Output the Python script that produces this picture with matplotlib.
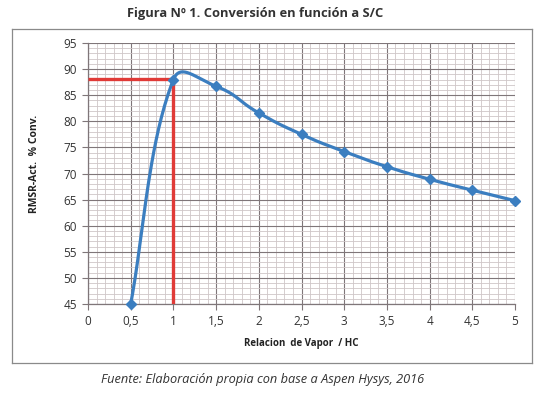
import numpy as np
import matplotlib
matplotlib.use("Agg")
import matplotlib.pyplot as plt
from matplotlib.lines import Line2D

# ---- data ----
x_vals = [0.5, 1.0, 1.5, 2.0, 2.5, 3.0, 3.5, 4.0, 4.5, 5.0]
y_vals = [45.0, 88.0, 86.7, 81.6, 77.5, 74.2, 71.3, 68.9, 66.8, 64.8]
ref_x = 1.0
ref_y = 88.1
x_ticks = [0, 0.5, 1, 1.5, 2, 2.5, 3, 3.5, 4, 4.5, 5]
x_ticklabels = ["0", "0,5", "1", "1,5", "2", "2,5", "3", "3,5", "4", "4,5", "5"]
y_ticks = [45, 50, 55, 60, 65, 70, 75, 80, 85, 90, 95]
title = "Figura Nº 1. Conversión en función a S/C"
xlabel = "Relacion  de Vapor  / HC"
ylabel = "RMSR-Act.  % Conv."
source = "Fuente: Elaboración propia con base a Aspen Hysys, 2016"

FONT = ["Open Sans", "DejaVu Sans"]
plt.rcParams['font.family'] = FONT

fig = plt.figure(figsize=(5.44, 3.93), dpi=100)
W, H = 544, 393

def fx(px): return px / W
def fy(py): return 1 - py / H

frame_col = "#8a8a8a"
fig.add_artist(Line2D([fx(11.5), fx(11.5)], [fy(28.5), fy(362.5)], color=frame_col, lw=0.9))
fig.add_artist(Line2D([fx(11.5), fx(531.5)], [fy(28.5), fy(28.5)], color=frame_col, lw=0.9))
fig.add_artist(Line2D([fx(531.5), fx(531.5)], [fy(28.5), fy(362.5)], color=frame_col, lw=0.9))
fig.add_artist(Line2D([fx(11.5), fx(531.5)], [fy(362.5), fy(362.5)], color=frame_col, lw=0.9))

ax = fig.add_axes([fx(88), fy(304), (515 - 88) / W, (304 - 43) / H])
ax.set_xlim(0, 5)
ax.set_ylim(45, 95)

ax.set_xticks(x_ticks)
ax.set_xticklabels(x_ticklabels)
ax.set_yticks(y_ticks)
ax.set_xticks(np.arange(0, 5.001, 0.1), minor=True)
ax.set_yticks(np.arange(45, 95.001, 1), minor=True)
ax.grid(which="minor", color="#cfc6c8", lw=0.6)
ax.grid(which="major", color="#7f7679", lw=0.8)
ax.tick_params(which="minor", length=0)
ax.tick_params(which="major", length=4, color="#7f7679", labelsize=8.5, labelcolor="#333333", pad=4)
ax.set_axisbelow(True)
for s in ["top", "right"]:
    ax.spines[s].set_visible(False)
for s in ["left", "bottom"]:
    ax.spines[s].set_color("#7f7679")
    ax.spines[s].set_linewidth(0.9)

# red reference lines
ax.plot([0, ref_x], [ref_y, ref_y], color="#e03a37", lw=2.4, solid_capstyle="butt", zorder=3)
ax.plot([ref_x, ref_x], [45, ref_y], color="#e03a37", lw=2.4, solid_capstyle="butt", zorder=3)

# smooth curve (Excel-like bezier smoothing computed in display space)
fig.canvas.draw()
pts = ax.transData.transform(np.column_stack([x_vals, y_vals]))
n = len(pts)
curve = []
tension = 0.5
fmax = 0.3
for i in range(n - 1):
    p0 = pts[i - 1] if i > 0 else pts[i]
    p1 = pts[i]
    p2 = pts[i + 1]
    p3 = pts[i + 2] if i + 2 < n else pts[i + 1]
    d01 = np.linalg.norm(p1 - p0); d12 = np.linalg.norm(p2 - p1); d23 = np.linalg.norm(p3 - p2)
    fb = min(fmax, tension * d12 / (d01 + d12)) if d01 + d12 > 0 else 0
    fa = min(fmax, tension * d12 / (d12 + d23)) if d12 + d23 > 0 else 0
    c1 = p1 + fb * (p2 - p0)
    c2 = p2 - fa * (p3 - p1)
    t = np.linspace(0, 1, 40)[:, None]
    seg = (1 - t) ** 3 * p1 + 3 * (1 - t) ** 2 * t * c1 + 3 * (1 - t) * t ** 2 * c2 + t ** 3 * p2
    curve.append(seg if i == 0 else seg[1:])
curve = np.vstack(curve)
curve_data = ax.transData.inverted().transform(curve)
blue = "#3b7ec0"
ax.plot(curve_data[:, 0], curve_data[:, 1], color=blue, lw=2.3, zorder=4, clip_on=False)
ax.plot(x_vals, y_vals, linestyle="none", marker="D", ms=5, color=blue, zorder=5, clip_on=False)

ax.set_xlabel(xlabel, fontsize=7, fontweight="bold", color="#222222", labelpad=7)
ax.set_ylabel(ylabel, fontsize=7.5, fontweight="bold", color="#222222")
ax.yaxis.set_label_coords(-0.112, 0.535)

fig.text(fx(255), fy(13), title, ha="center", va="center", fontsize=9.3, fontweight="bold", color="#333333")
fig.text(fx(263), fy(380), source, ha="center", va="center", fontsize=9.2, style="italic", color="#333333")

fig.savefig("out.png", dpi=100)
